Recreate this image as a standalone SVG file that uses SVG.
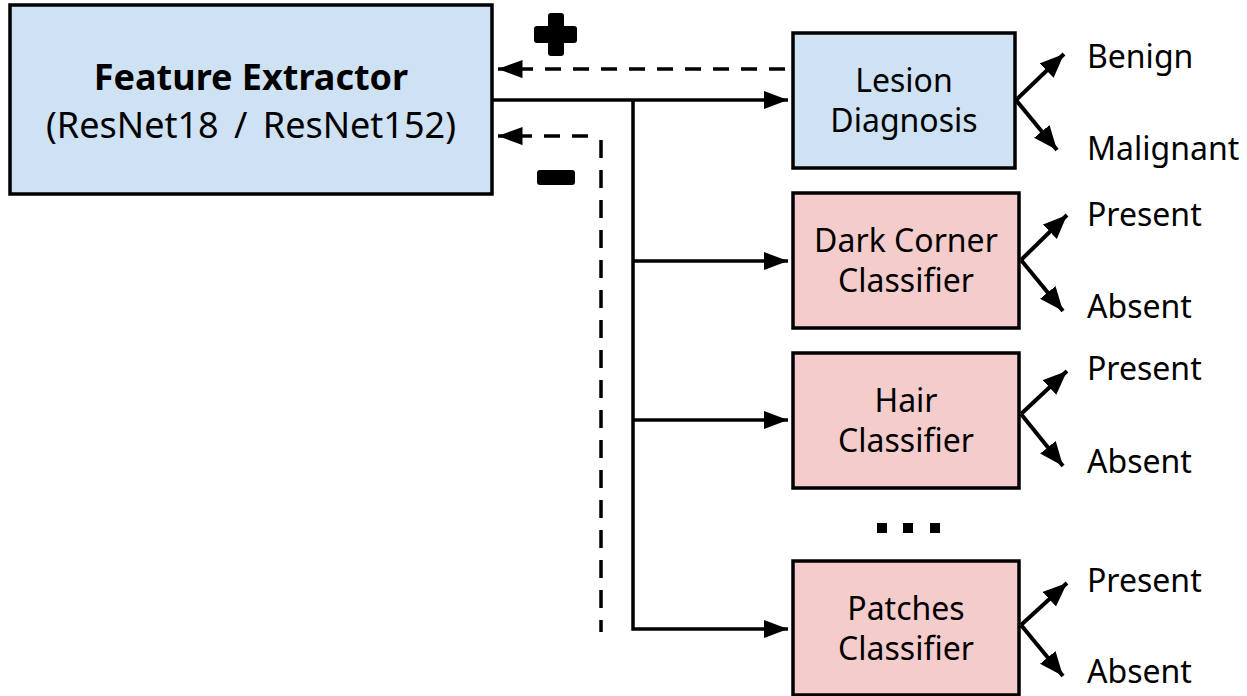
<svg xmlns="http://www.w3.org/2000/svg" width="1247" height="696" viewBox="0 0 1247 696">
  <style>
    .box { stroke: #000; stroke-width: 3.5; }
    .blue { fill: #cfe2f3; }
    .pink { fill: #f4cccc; }
    text { font-family: "Noto Sans", "Open Sans", sans-serif; font-size: 32px; fill: #000; }
    .mid { text-anchor: middle; }
    .line { stroke: #000; stroke-width: 3.5; fill: none; }
    .out { stroke-width: 4; }
    .dash { stroke-dasharray: 16 12; }
    .vdash { stroke-dasharray: 18 12; }
  </style>
  <defs>
    <marker id="arrow" markerWidth="10" markerHeight="10" refX="7" refY="2.6" orient="auto" markerUnits="strokeWidth">
      <path d="M0,0 L7,2.6 L0,5.2 Z" fill="#000"/>
    </marker>
    <marker id="arrow-out" markerWidth="10" markerHeight="10" refX="6" refY="2.5" orient="auto" markerUnits="strokeWidth">
      <path d="M0,0 L6,2.5 L0,5 Z" fill="#000"/>
    </marker>
  </defs>

  <!-- feature extractor -->
  <g id="feature-extractor">
    <rect class="box blue" x="10" y="5" width="482" height="189"/>
    <text class="mid" x="251" y="90" style="font-weight:bold;font-size:36px">Feature Extractor</text>
    <text class="mid" x="251" y="138" style="font-size:36px;word-spacing:6px">(ResNet18 / ResNet152)</text>
  </g>

  <!-- task heads -->
  <g id="lesion-diagnosis">
    <rect class="box blue" x="793" y="33" width="222" height="135"/>
    <text class="mid" x="904" y="92">Lesion</text>
    <text class="mid" x="904" y="132">Diagnosis</text>
    <text x="1087" y="68">Benign</text>
    <text x="1087" y="160">Malignant</text>
  </g>

  <g id="dark-corner-classifier">
    <rect class="box pink" x="793" y="193" width="226" height="135"/>
    <text class="mid" x="906" y="252">Dark Corner</text>
    <text class="mid" x="906" y="292">Classifier</text>
    <text x="1087" y="226">Present</text>
    <text x="1087" y="318">Absent</text>
  </g>

  <g id="hair-classifier">
    <rect class="box pink" x="793" y="353" width="226" height="135"/>
    <text class="mid" x="906" y="412">Hair</text>
    <text class="mid" x="906" y="452">Classifier</text>
    <text x="1087" y="380">Present</text>
    <text x="1087" y="473">Absent</text>
  </g>

  <g id="ellipsis">
    <rect x="877" y="523" width="10" height="10"/>
    <rect x="903" y="523" width="10" height="10"/>
    <rect x="930" y="523" width="10" height="10"/>
  </g>

  <g id="patches-classifier">
    <rect class="box pink" x="793" y="561" width="226" height="134"/>
    <text class="mid" x="906" y="620">Patches</text>
    <text class="mid" x="906" y="660">Classifier</text>
    <text x="1087" y="592">Present</text>
    <text x="1087" y="683">Absent</text>
  </g>

  <!-- gradient sign glyphs -->
  <g id="plus-sign">
    <rect x="534" y="26" width="43" height="17" rx="3"/>
    <rect x="548" y="13" width="16" height="43" rx="3"/>
  </g>
  <g id="minus-sign">
    <rect x="537" y="170" width="38" height="15" rx="3"/>
  </g>

  <g id="connectors">
    <!-- forward feature paths -->
    <path class="line" d="M492,100 L788,100" marker-end="url(#arrow)"/>
    <path class="line" d="M633,100 L633,629 L788,629" marker-end="url(#arrow)"/>
    <path class="line" d="M633,261 L788,261" marker-end="url(#arrow)"/>
    <path class="line" d="M633,420 L788,420" marker-end="url(#arrow)"/>
    <!-- gradient feedback -->
    <path class="line dash" d="M785,69 L498,69" marker-end="url(#arrow)"/>
    <path class="line dash" d="M588,136 L498,136" marker-end="url(#arrow)"/>
    <path class="line vdash" d="M601,140 L601,632"/>
    <!-- output branches -->
    <path class="line out" d="M1016,100 L1064,54" marker-end="url(#arrow-out)"/>
    <path class="line out" d="M1016,100 L1057,150" marker-end="url(#arrow-out)"/>
    <path class="line out" d="M1021,260 L1067,215" marker-end="url(#arrow-out)"/>
    <path class="line out" d="M1021,260 L1063,311" marker-end="url(#arrow-out)"/>
    <path class="line out" d="M1021,414 L1067,371" marker-end="url(#arrow-out)"/>
    <path class="line out" d="M1021,414 L1063,466" marker-end="url(#arrow-out)"/>
    <path class="line out" d="M1021,625 L1067,583" marker-end="url(#arrow-out)"/>
    <path class="line out" d="M1021,625 L1063,676" marker-end="url(#arrow-out)"/>
  </g>
</svg>
